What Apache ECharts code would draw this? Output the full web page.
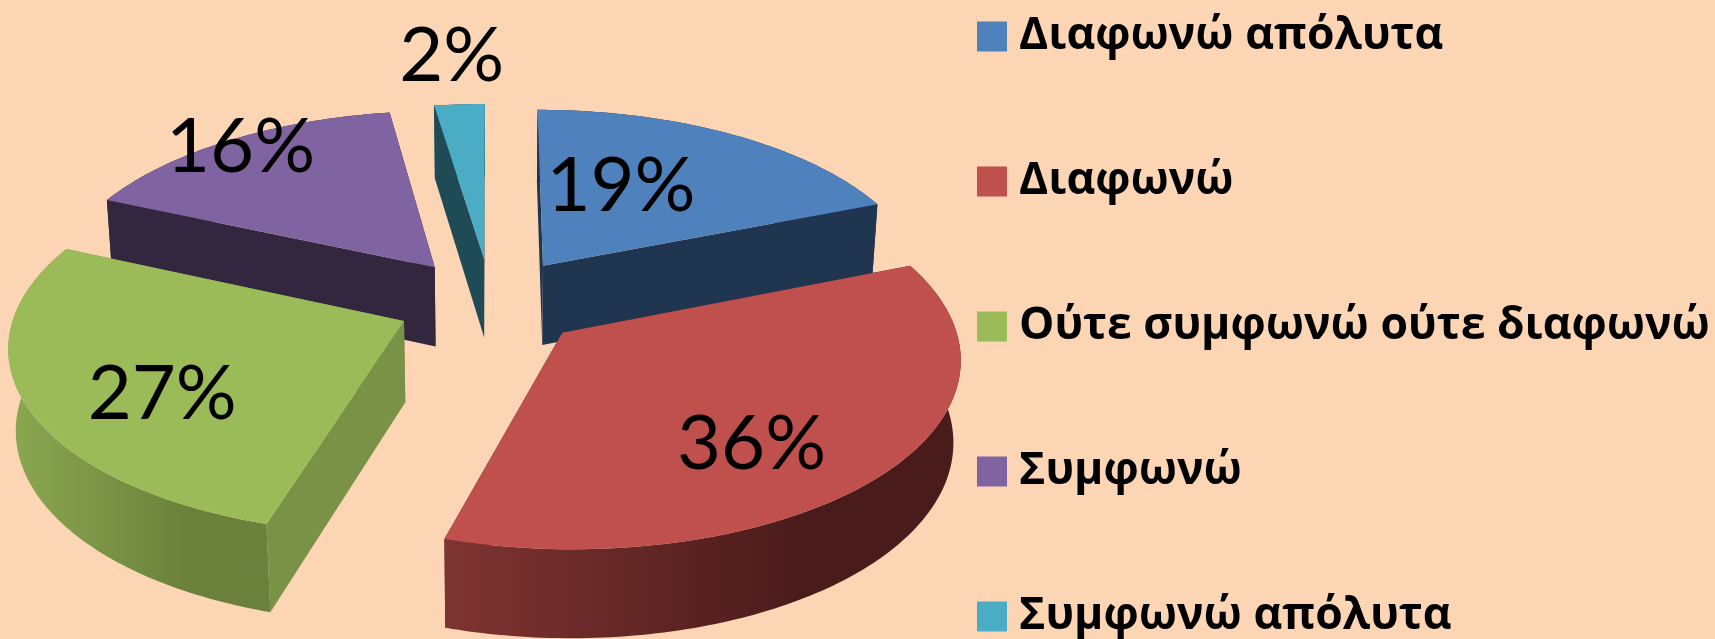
<!DOCTYPE html>
<html>
<head>
<meta charset="utf-8">
<style>
html,body{margin:0;padding:0;background:#FCD5B5;}
#main{width:1715px;height:639px;}
</style>
<script src="https://cdn.jsdelivr.net/npm/echarts@6/dist/echarts.min.js"></script>
</head>
<body>
<div id="main"></div>
<script>
var categories = ['Διαφωνώ απόλυτα', 'Διαφωνώ', 'Ούτε συμφωνώ ούτε διαφωνώ', 'Συμφωνώ', 'Συμφωνώ απόλυτα'];
// the printed percents are these rounded
var shares = [19, 35.6, 27, 16, 2.4];
var drawOrder = [4, 0, 3, 2, 1]; // back slices first

var topColors = ['#4F81BD', '#C0504D', '#9BBB59', '#8064A2', '#4BACC6'];
var radialColors = ['#203650', '#4E1E1D', '#7A9245', '#33273F', '#1F4B57'];
var arcLeftColors = ['#203650', '#7F3432', '#8CA851', '#33273F', '#1F4B57'];
var arcRightColors = ['#203650', '#4A1B1B', '#6A803B', '#33273F', '#1F4B57'];
// where the percent sits inside its slice: distance from the tip, and turn in degrees
var labelRadius = [0.53, 0.7, 0.69, 0.94, 1.36];
var labelTurn = [-9, 9, -8, 0, 0];

// pie in perspective
var cx = 491, cy = 302;
var camDist = 7.4, focal = 2861, tilt = 28.2 * Math.PI / 180;
var explode = 0.245, depth = 0.24;
var total = shares.reduce(function (a, b) { return a + b; }, 0);

function project(deg, r, mid, z) {
	var a = deg * Math.PI / 180, m = mid * Math.PI / 180;
	var x = r * Math.sin(a) + explode * Math.sin(m);
	var y = -r * Math.cos(a) - explode * Math.cos(m);
	var w = camDist - y * Math.cos(tilt) - z * Math.sin(tilt);
	return [
		cx + focal * x / w,
		cy + focal * (y * Math.sin(tilt) - z * Math.cos(tilt)) / w
	];
}

function renderSlice(idx) {
	return function (params, api) {
		var before = 0;
		for (var i = 0; i < idx; i++) before += shares[i];
		var start = before / total * 360;
		var end = start + api.value(0) / total * 360;
		var mid = (start + end) / 2;

		var topPts = [project(0, 0, mid, 0)], arcTop = [], arcBottom = [];
		var steps = Math.max(2, Math.ceil(end - start));
		for (var s = 0; s <= steps; s++) {
			var deg = start + (end - start) * s / steps;
			arcTop.push(project(deg, 1, mid, 0));
			arcBottom.unshift(project(deg, 1, mid, -depth));
		}
		topPts = topPts.concat(arcTop);

		function radialWall(deg) {
			return {
				type: 'polygon',
				shape: { points: [
					project(0, 0, mid, 0), project(deg, 1, mid, 0),
					project(deg, 1, mid, -depth), project(0, 0, mid, -depth)
				] },
				style: { fill: radialColors[idx] }
			};
		}
		var gradient = new echarts.graphic.LinearGradient(0, 0, 1, 0, [
			{ offset: 0, color: arcLeftColors[idx] },
			{ offset: 0.7, color: arcRightColors[idx] },
			{ offset: 1, color: arcRightColors[idx] }
		]);
		var label = project(mid + labelTurn[idx], labelRadius[idx], mid, 0);

		return {
			type: 'group',
			children: [
				radialWall(start),
				radialWall(end),
				{ type: 'polygon', shape: { points: arcTop.concat(arcBottom) }, style: { fill: gradient } },
				{ type: 'polygon', shape: { points: topPts }, style: { fill: topColors[idx] } },
				{
					type: 'text',
					x: label[0],
					y: label[1],
					style: {
						text: Math.round(api.value(0)) + '%',
						fill: '#000',
						font: '76px Lato, "Open Sans", sans-serif',
						align: 'center',
						verticalAlign: 'middle'
					}
				}
			]
		};
	};
}

var seriesList = drawOrder.map(function (idx) {
	return {
		name: categories[idx],
		type: 'custom',
		coordinateSystem: 'none',
		silent: true,
		itemStyle: { color: topColors[idx] },
		renderItem: renderSlice(idx),
		data: [[shares[idx]]]
	};
});

var myChart = echarts.init(document.getElementById('main'));
myChart.setOption({
	backgroundColor: '#FCD5B5',
	animation: false,
	legend: {
		orient: 'vertical',
		left: 977,
		top: 14,
		height: 680,
		padding: 0,
		itemWidth: 30,
		itemHeight: 30,
		itemGap: 100,
		icon: 'rect',
		data: categories,
		textStyle: {
			color: '#000',
			fontFamily: '"Open Sans", sans-serif',
			fontWeight: 'bold',
			fontSize: 44.5,
			lineHeight: 40,
			padding: [0, 0, 0, 7]
		}
	},
	series: seriesList
});
</script>
</body>
</html>
